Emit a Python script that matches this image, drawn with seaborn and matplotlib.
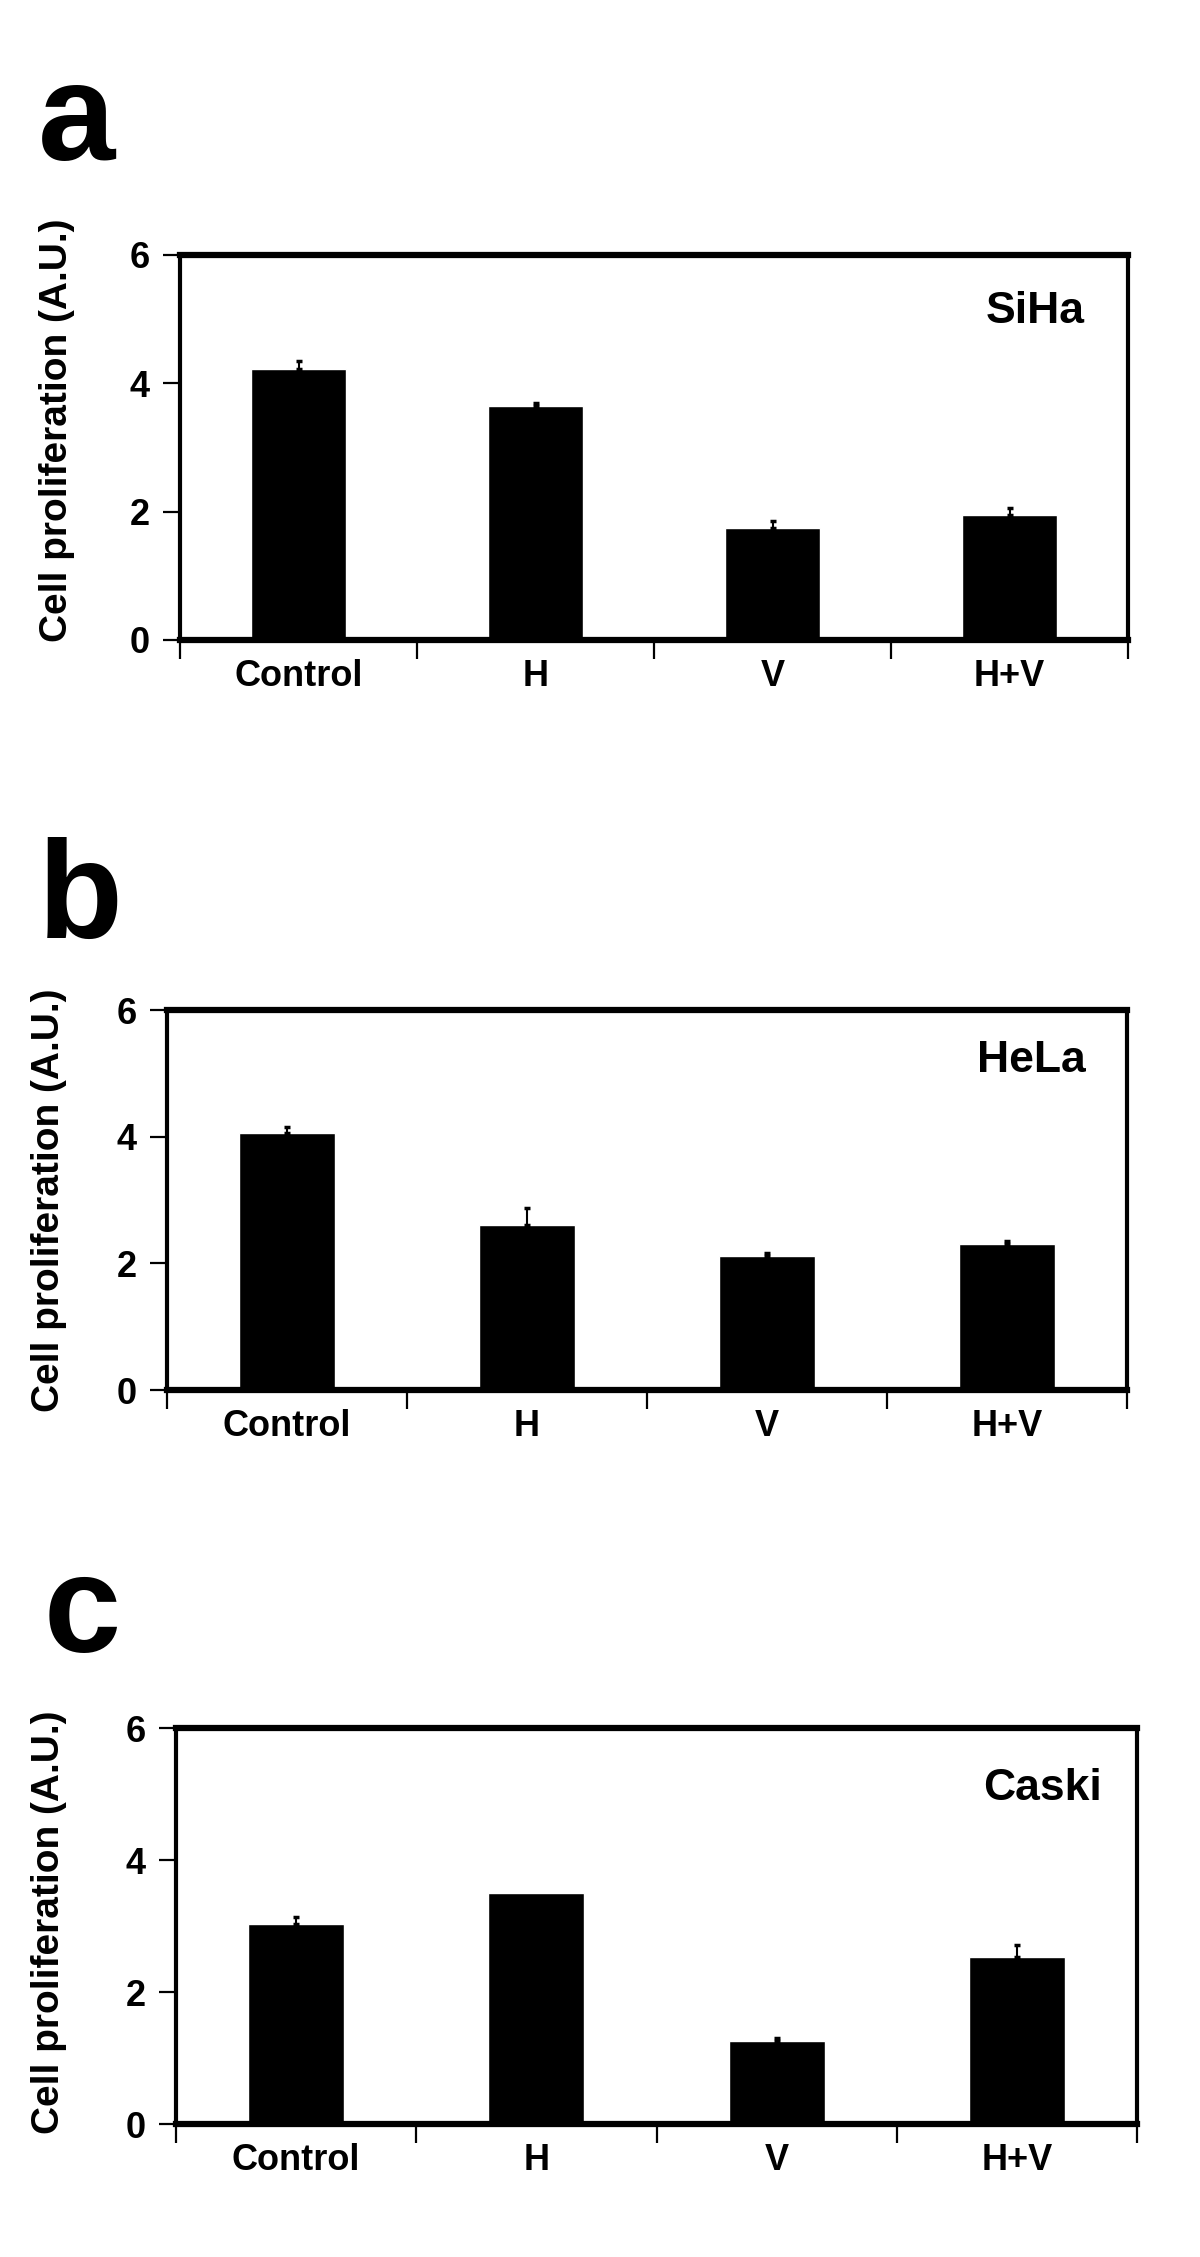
import matplotlib
matplotlib.use("Agg")
import matplotlib.pyplot as plt
import seaborn as sns
import numpy as np
import pandas as pd
from matplotlib.ticker import FixedLocator, NullFormatter

# ---- data ----
categories = ["Control", "H", "V", "H+V"]
siha_values = [4.22, 3.64, 1.75, 1.95]
siha_errors = [0.13, 0.05, 0.10, 0.10]
hela_values = [4.06, 2.60, 2.12, 2.30]
hela_errors = [0.10, 0.28, 0.04, 0.05]
caski_values = [3.03, 3.50, 1.26, 2.53]
caski_errors = [0.10, 0.00, 0.05, 0.18]
cell_lines = ["SiHa", "HeLa", "Caski"]
panel_letters = ["a", "b", "c"]
y_ticks = [0, 2, 4, 6]
y_label = "Cell proliferation (A.U.)"

sns.set_style("white")
plt.rcParams["font.family"] = ["Liberation Sans", "DejaVu Sans"]
plt.rcParams["font.weight"] = "bold"
for key in ["text.color", "axes.labelcolor", "xtick.color", "ytick.color", "axes.edgecolor"]:
    plt.rcParams[key] = "black"

W, H = 1200, 2257
fig = plt.figure(figsize=(W / 100, H / 100), dpi=100)

# axes boxes in pixels: left, right, top, bottom
boxes = [(180, 1128, 255, 640), (167, 1127, 1010, 1390), (176, 1137, 1728, 2124)]
label_pos = [(0.902, 0.852), (0.900, 0.868), (0.902, 0.847)]
ylabel_x = [-0.111, -0.104, -0.113]
ylabel_y = [0.545, 0.50, 0.51]
letter_pos = [(38, 160), (38, 938), (44, 1652)]

values_all = [siha_values, hela_values, caski_values]
errors_all = [siha_errors, hela_errors, caski_errors]

for i in range(3):
    l, r, t, b = boxes[i]
    ax = fig.add_axes([l / W, 1 - b / H, (r - l) / W, (b - t) / H])
    df = pd.DataFrame({"group": categories, "value": values_all[i]})
    sns.barplot(data=df, x="group", y="value", color="black", saturation=1,
                width=0.40, errorbar=None, ax=ax, zorder=2)
    err = np.array(errors_all[i])
    vals = np.array(values_all[i])
    mask = err > 0
    xs = np.arange(len(categories))
    ax.errorbar(xs[mask], vals[mask], yerr=[np.zeros(mask.sum()), err[mask]],
                fmt="none", ecolor="black", elinewidth=1.5, capsize=2.5,
                capthick=2.5, zorder=3)
    ax.set_xlim(-0.5, 3.5)
    ax.set_ylim(0, 6)
    ax.set_yticks(y_ticks)
    ax.set_yticklabels([str(v) for v in y_ticks], fontsize=26, fontweight="bold")
    ax.tick_params(axis="y", direction="out", length=12, width=1.6, pad=10, left=True,
                   colors="black")
    ax.set_xticks(xs)
    ax.set_xticklabels(categories, fontsize=26, fontweight="bold")
    ax.tick_params(axis="x", which="major", length=0, pad=14, bottom=True, colors="black")
    ax.xaxis.set_minor_locator(FixedLocator([-0.5, 0.5, 1.5, 2.5, 3.5]))
    ax.xaxis.set_minor_formatter(NullFormatter())
    ax.tick_params(axis="x", which="minor", direction="out", length=14, width=1.6,
                   bottom=True, colors="black")
    ax.set_xlabel("")
    ax.set_ylabel(y_label, fontsize=28, fontweight="bold", color="black")
    ax.yaxis.set_label_coords(ylabel_x[i], ylabel_y[i])
    for side in ["top", "bottom"]:
        ax.spines[side].set_linewidth(4.5)
        ax.spines[side].set_color("black")
        ax.spines[side].set_visible(True)
    for side in ["left", "right"]:
        ax.spines[side].set_linewidth(3.0)
        ax.spines[side].set_color("black")
        ax.spines[side].set_visible(True)
    ax.text(label_pos[i][0], label_pos[i][1], cell_lines[i], transform=ax.transAxes,
            ha="center", va="center", fontsize=32, fontweight="bold", color="black")
    fig.text(letter_pos[i][0] / W, 1 - letter_pos[i][1] / H, panel_letters[i],
             ha="left", va="baseline", fontsize=100, fontweight="bold", color="black")

fig.savefig("out.png", dpi=100, facecolor="white")
